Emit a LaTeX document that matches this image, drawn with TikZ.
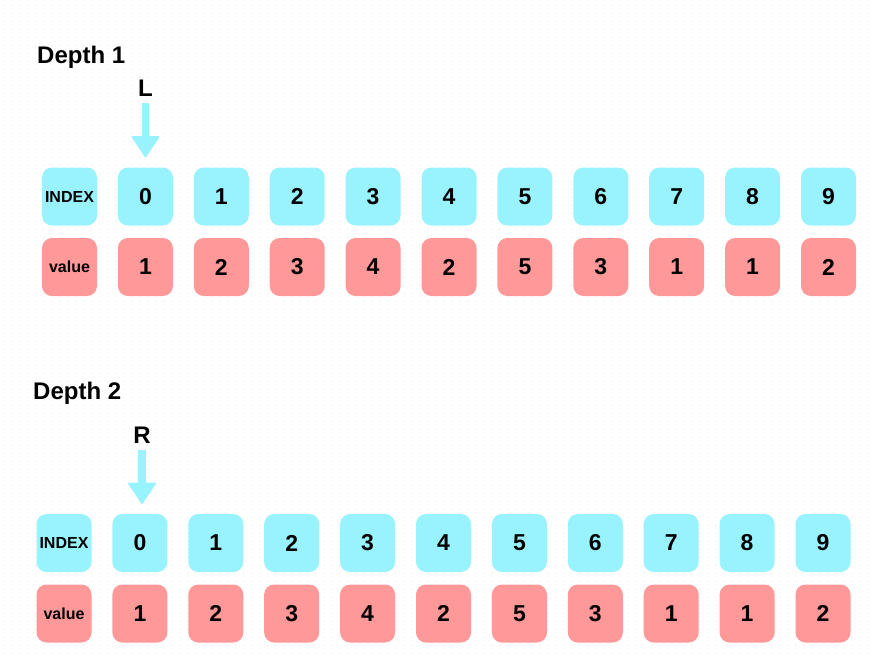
\documentclass[tikz,border=0pt]{standalone}
\usepackage{fontspec}
\setmainfont{Liberation Sans}
\usepackage{xcolor}
\usepackage{tikz}
\usetikzlibrary{positioning,arrows.meta,patterns.meta}

\definecolor{idxcyan}{HTML}{99F3FF}
\definecolor{valpink}{HTML}{FF9898}

\tikzdeclarepattern{
  name=griddots, type=uncolored,
  bounding box={(0pt,0pt) and (7.6pt,7.6pt)},
  tile size={(7.6pt,7.6pt)},
  code={\fill (3.8pt,3.8pt) circle (0.7pt);}
}

\begin{document}
\begin{tikzpicture}
      [ x=1pt, y=-1pt,
        cell/.style={rounded corners=10pt, minimum width=55pt, minimum height=58pt,
                     inner sep=0pt, outer sep=0pt, font=\bfseries\fontsize{23}{23}\selectfont},
        idx/.style={cell, fill=idxcyan},
        val/.style={cell, fill=valpink},
        head/.style={font=\bfseries\fontsize{16}{16}\selectfont},
        depth/.style={font=\bfseries\fontsize{24}{24}\selectfont, inner sep=0pt, anchor=base west},
        ptr/.style={font=\bfseries\fontsize{24}{24}\selectfont, inner sep=0pt, outer sep=0pt, anchor=base},
        ptrarrow/.style={draw=idxcyan, line width=7.5pt,
                         -{Triangle[width=29pt,length=22pt,round,line width=1.5pt]},
                         shorten <=7pt, shorten >=10pt},
        node distance=20.9pt
      ]
      \useasboundingbox (0,0) rectangle (875,657);
      \fill[pattern=griddots, pattern color=black!9] (0,0) rectangle (875,657);

      % depth 1
      \node[depth]     (d1)   at (37,63)      {Depth 1};
      \node[ptr]       (L)    at (145.5,96)   {L};
      \node[idx,head]  (i1_x) at (69.5,196.5) {INDEX};
      \node[val,head]  (v1_x) at (69.5,267)   {value};
      \foreach \n/\v [remember=\n as \p (initially x)] in
               {0/1,1/2,2/3,3/4,4/2,5/5,6/3,7/1,8/1,9/2} {
        \node[idx] (i1_\n) [right=of i1_\p] {\n};
        \node[val] (v1_\n) [right=of v1_\p] {\v};
      }
      \draw[ptrarrow] (L.south) -- (L.south |- i1_0.north);

      % depth 2
      \node[depth]     (d2)   at (33,399)     {Depth 2};
      \node[ptr]       (R)    at (142,443)    {R};
      \node[idx,head]  (i2_x) at (64,543)     {INDEX};
      \node[val,head]  (v2_x) at (64,613.5)   {value};
      \foreach \n/\v [remember=\n as \p (initially x)] in
               {0/1,1/2,2/3,3/4,4/2,5/5,6/3,7/1,8/1,9/2} {
        \node[idx] (i2_\n) [right=of i2_\p] {\n};
        \node[val] (v2_\n) [right=of v2_\p] {\v};
      }
      \draw[ptrarrow] (R.south) -- (R.south |- i2_0.north);
    \end{tikzpicture}
\end{document}
